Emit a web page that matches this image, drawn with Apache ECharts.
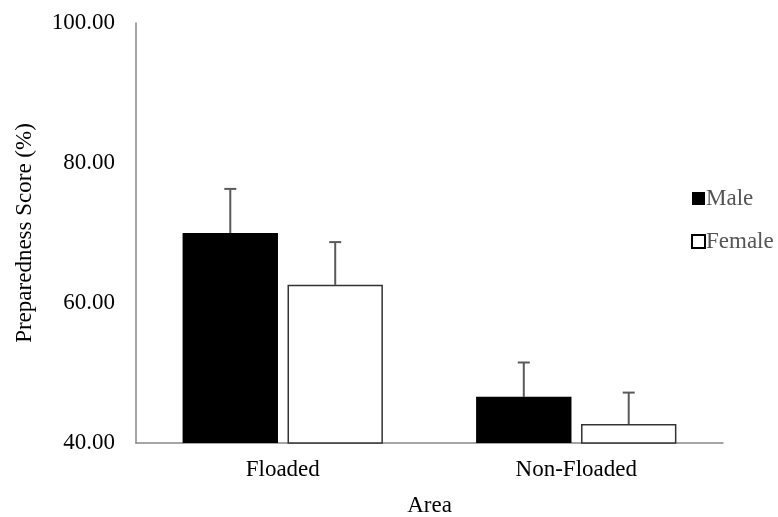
<!DOCTYPE html>
<html>
<head>
<meta charset="utf-8">
<script src="https://cdn.jsdelivr.net/npm/echarts@6/dist/echarts.min.js"></script>
<style>html,body{margin:0;padding:0;background:#fff}#c{width:778px;height:517px}</style>
</head>
<body>
<div id="c"></div>
<script>
var categories = ['Floaded', 'Non-Floaded'];
var seriesNames = ['Male', 'Female'];
var maleValues = [70.0, 46.6];
var femaleValues = [62.6, 42.7];
var maleErrors = [6.3, 4.9];
var femaleErrors = [6.1, 4.5];
var yTicks = [40, 60, 80, 100];

var FONT = '"Liberation Serif", "Times New Roman", serif';
var BAR_W = 0.325, BAR_GAP = 0.10;

function errorSeries(values, errors, sign) {
  return {
    type: 'custom',
    silent: true,
    z: 1,
    data: values.map(function (v, i) { return [i, v, v + errors[i]]; }),
    encode: { x: 0, y: [1, 2] },
    renderItem: function (params, api) {
      var band = api.size([1, 0])[0];
      var w = band * BAR_W;
      var off = sign * (w + w * BAR_GAP) / 2;
      var p0 = api.coord([api.value(0), api.value(1)]);
      var p1 = api.coord([api.value(0), api.value(2)]);
      var x = p0[0] + off;
      var style = { stroke: '#5a5a5a', lineWidth: 2 };
      return {
        type: 'group',
        children: [
          { type: 'line', shape: { x1: x, y1: p0[1], x2: x, y2: p1[1] }, style: style },
          { type: 'line', shape: { x1: x - 6, y1: p1[1], x2: x + 6, y2: p1[1] }, style: style }
        ]
      };
    }
  };
}

var chart = echarts.init(document.getElementById('c'), null, { renderer: 'canvas' });
chart.setOption({
  animation: false,
  backgroundColor: '#fff',
  grid: { left: 136, right: 55, top: 23, bottom: 74, containLabel: false, outerBoundsMode: 'none' },
  legend: {
    orient: 'vertical',
    left: 686,
    top: 182,
    itemWidth: 13,
    itemHeight: 13,
    itemGap: 20,
    icon: 'rect',
    textStyle: { fontFamily: FONT, fontSize: 23, color: '#555', padding: [0, 0, 0, -4] },
    data: [
      { name: 'Male', itemStyle: { color: '#000', borderWidth: 0 } },
      { name: 'Female', itemStyle: { color: '#fff', borderColor: '#000', borderWidth: 2 } }
    ]
  },
  xAxis: {
    type: 'category',
    data: categories,
    name: 'Area',
    nameLocation: 'middle',
    nameGap: 51,
    nameTextStyle: { fontFamily: FONT, fontSize: 23, color: '#000' },
    axisLine: { lineStyle: { color: '#888', width: 1.5 } },
    axisTick: { show: false },
    axisLabel: { fontFamily: FONT, fontSize: 23, color: '#000', margin: 15 }
  },
  yAxis: {
    type: 'value',
    min: yTicks[0],
    max: yTicks[yTicks.length - 1],
    interval: yTicks[1] - yTicks[0],
    name: 'Preparedness Score (%)',
    nameLocation: 'middle',
    nameGap: 100,
    nameTextStyle: { fontFamily: FONT, fontSize: 23, color: '#000' },
    axisLine: { show: true, lineStyle: { color: '#888', width: 1.5 } },
    axisTick: { show: false },
    splitLine: { show: false },
    axisLabel: {
      fontFamily: FONT, fontSize: 23, color: '#000', margin: 21,
      formatter: function (v) { return v.toFixed(2); }
    }
  },
  series: [
    {
      name: seriesNames[0], type: 'bar', data: maleValues,
      barWidth: (BAR_W * 100) + '%', barGap: (BAR_GAP * 100) + '%',
      itemStyle: { color: '#000' }, z: 2
    },
    {
      name: seriesNames[1], type: 'bar', data: femaleValues,
      barWidth: (BAR_W * 100) + '%',
      itemStyle: { color: '#fff', borderColor: '#333', borderWidth: 1.5 }, z: 2
    },
    errorSeries(maleValues, maleErrors, -1),
    errorSeries(femaleValues, femaleErrors, 1)
  ]
});
</script>
</body>
</html>
